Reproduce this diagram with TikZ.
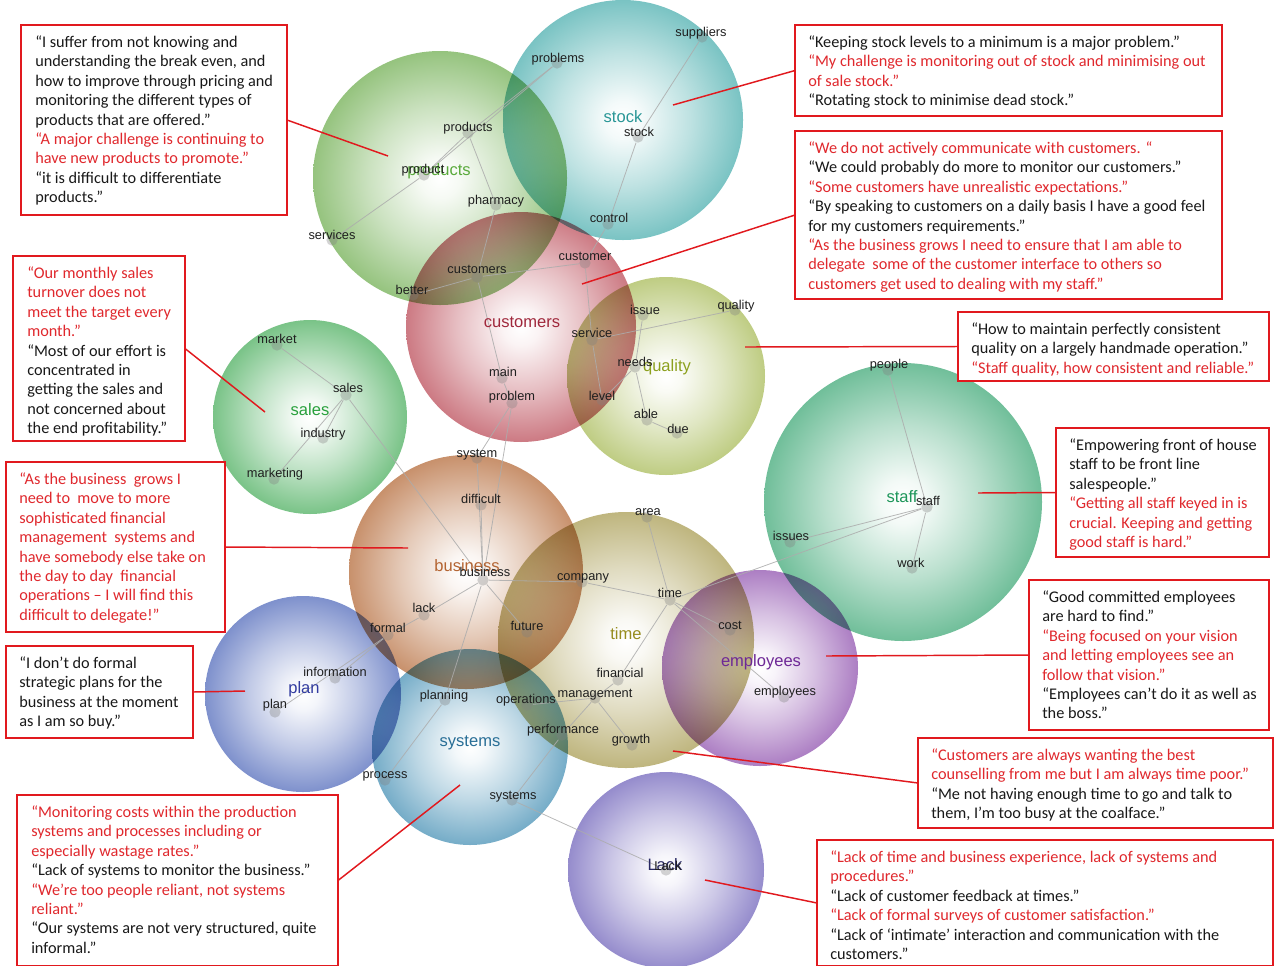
\documentclass[tikz,border=0pt]{standalone}
\usepackage{fontspec}
\setmainfont{Carlito}
\newfontfamily\arialf{Liberation Sans}
\usetikzlibrary{calc}

\definecolor{qred}{RGB}{224,40,45}
\definecolor{qblk}{RGB}{25,25,25}
\definecolor{lred}{RGB}{225,25,30}
% bubble colours
\definecolor{cProd}{RGB}{140,190,115}
\definecolor{cStock}{RGB}{110,190,190}
\definecolor{cCust}{RGB}{200,110,120}
\definecolor{cQual}{RGB}{185,200,120}
\definecolor{cSales}{RGB}{110,190,125}
\definecolor{cBus}{RGB}{195,135,95}
\definecolor{cTime}{RGB}{185,175,115}
\definecolor{cEmp}{RGB}{165,115,190}
\definecolor{cStaff}{RGB}{100,185,145}
\definecolor{cPlan}{RGB}{115,135,200}
\definecolor{cSys}{RGB}{105,165,195}
\definecolor{cLack}{RGB}{140,130,200}
% topic label colours
\definecolor{tProd}{RGB}{90,170,60}
\definecolor{tStock}{RGB}{40,150,150}
\definecolor{tCust}{RGB}{160,40,60}
\definecolor{tQual}{RGB}{140,160,30}
\definecolor{tSales}{RGB}{40,160,60}
\definecolor{tBus}{RGB}{180,100,50}
\definecolor{tTime}{RGB}{150,140,30}
\definecolor{tEmp}{RGB}{110,40,150}
\definecolor{tStaff}{RGB}{30,150,90}
\definecolor{tPlan}{RGB}{50,60,160}
\definecolor{tSys}{RGB}{40,110,150}
\definecolor{tLack}{RGB}{40,40,100}

\pgfdeclareradialshading[bubcol]{bubble}{\pgfpointorigin}{color(0bp)=(white); color(4bp)=(bubcol!8!white); color(14bp)=(bubcol!45!white); color(21bp)=(bubcol!75!white); color(25bp)=(bubcol!92!white); color(50bp)=(bubcol!92!white)}

\pgfdeclarelayer{bg}
\pgfdeclarelayer{lines}
\pgfsetlayers{bg,lines,main}

\newcommand\Rq{\color{qred}}
\newcommand\Kq{\color{qblk}}

\tikzset{
  bub/.style 2 args={circle, inner sep=0pt, outer sep=0pt, minimum size={#2*0.75pt},
    /utils/exec={\colorlet{bubcol}{#1}}, shade, shading=bubble},
  kdot/.style={circle, fill=gray, fill opacity=0.35, draw=none, minimum size=8.5pt, inner sep=0pt},
  klab/.style={font=\arialf\fontsize{9.6}{11}\selectfont, text=black!88, inner sep=0pt, text height=6.9pt, text depth=2pt},
  topic/.style={font=\arialf\fontsize{12.4}{14}\selectfont, inner sep=0pt, text height=9pt, text depth=2.6pt},
  kline/.style={draw=gray!65, line width=0.6pt, draw opacity=0.85},
  rline/.style={draw=lred, line width=1.1pt},
  qframe/.style={draw=lred, line width=1.1pt, fill=white, inner sep=0pt, outer sep=0pt},
  qtext/.style={font=\fontsize{12.2}{14.55}\selectfont, align=left, inner sep=0pt, anchor=north west},
}

\newcommand\kw[6]{\node[kdot] (#1) at (#2,#3) {}; \node[klab] (#1-t) at (#4,#5) {#6};}
\newcommand\qbox[7]{%
  \node[qframe, minimum width={(#4-#2)*0.75pt}, minimum height={(#5-#3)*0.75pt}] (#1) at ({(#2+#4)/2},{(#3+#5)/2}) {};
  \node[qtext] (#1-t) at (#2+#6,#3+10.5) {#7};}

\begin{document}
\begin{tikzpicture}[x=0.75pt, y=-0.75pt]
\useasboundingbox (0,0) rectangle (1274,965);

% ---------- bubbles ----------
\begin{pgfonlayer}{bg}
\begin{scope}[blend mode=multiply]
\node[bub={cProd}{254}]  (bProd)  at (440,178) {};
\node[bub={cStock}{240}] (bStock) at (623,120) {};
\node[bub={cCust}{230}]  (bCust)  at (521,327) {};
\node[bub={cQual}{198}]  (bQual)  at (666,376) {};
\node[bub={cSales}{194}] (bSales) at (310,417) {};
\node[bub={cBus}{234}]   (bBus)   at (466,572) {};
\node[bub={cTime}{256}]  (bTime)  at (626,640) {};
\node[bub={cEmp}{196}]   (bEmp)   at (760,668) {};
\node[bub={cStaff}{278}] (bStaff) at (903,502) {};
\node[bub={cPlan}{196}]  (bPlan)  at (303,694) {};
\node[bub={cSys}{196}]   (bSys)   at (470,747) {};
\node[bub={cLack}{196}]  (bLack)  at (666,870) {};
\end{scope}
\end{pgfonlayer}

% ---------- topic labels ----------
\node[topic, text=tProd]  (tProducts)  at (439,171) {products};
\node[topic, text=tStock] (tStockL)    at (623,118) {stock};
\node[topic, text=tCust]  (tCustomers) at (522,323) {customers};
\node[topic, text=tQual]  (tQuality)   at (667,367) {quality};
\node[topic, text=tSales] (tSalesL)    at (310,411) {sales};
\node[topic, text=tBus]   (tBusiness)  at (467,567) {business};
\node[topic, text=tTime]  (tTimeL)     at (626,635) {time};
\node[topic, text=tEmp]   (tEmployees) at (761,662) {employees};
\node[topic, text=tStaff] (tStaffL)    at (902,498) {staff};
\node[topic, text=tPlan]  (tPlanL)     at (304,689) {plan};
\node[topic, text=tSys]   (tSystems)   at (470,742) {systems};
\node[topic, text=tLack]  (tLackL)     at (665,866) {Lack};

% ---------- key words ----------
\kw{kProblems}{557}{63}{558}{59}{problems}
\kw{kSuppliers}{702}{37}{701}{33}{suppliers}
\kw{kProducts}{468}{133}{468}{128}{products}
\kw{kProduct}{424}{175}{423}{170}{product}
\kw{kPharmacy}{496}{205}{496}{201}{pharmacy}
\kw{kControl}{608}{224}{609}{219}{control}
\kw{kServices}{332}{240}{332}{236}{services}
\kw{kStock}{638}{137}{639}{133}{stock}
\kw{kCustomer}{585}{263}{585}{257}{customer}
\kw{kCustomers}{477}{277}{477}{270}{customers}
\kw{kBetter}{413}{295}{412}{291}{better}
\kw{kIssue}{643}{315}{645}{311}{issue}
\kw{kQuality}{735}{310}{736}{306}{quality}
\kw{kService}{592}{340}{592}{334}{service}
\kw{kNeeds}{635}{367}{635}{363}{needs}
\kw{kLevel}{602}{400}{602}{397}{level}
\kw{kAble}{647}{420}{646}{415}{able}
\kw{kDue}{677}{433}{678}{430}{due}
\kw{kMain}{502}{378}{503}{373}{main}
\kw{kProblem}{512}{403}{512}{397}{problem}
\kw{kSystem}{477}{458}{477}{454}{system}
\kw{kMarket}{277}{345}{277}{340}{market}
\kw{kSales}{346}{395}{348}{389}{sales}
\kw{kIndustry}{323}{438}{323}{434}{industry}
\kw{kMarketing}{274}{479}{275}{474}{marketing}
\kw{kDifficult}{481}{505}{481}{500}{difficult}
\kw{kBusiness}{483}{580}{485}{573}{business}
\kw{kArea}{647}{517}{648}{512}{area}
\kw{kCompany}{582}{582}{583}{577}{company}
\kw{kTime}{670}{600}{670}{594}{time}
\kw{kLack}{424}{615}{424}{609}{lack}
\kw{kFormal}{388}{635}{388}{629}{formal}
\kw{kFuture}{527}{632}{527}{627}{future}
\kw{kCost}{730}{630}{730}{626}{cost}
\kw{kFinancial}{618}{680}{620}{674}{financial}
\kw{kManagement}{595}{698}{595}{694}{management}
\kw{kOperations}{527}{705}{526}{700}{operations}
\kw{kPerformance}{562}{735}{563}{730}{performance}
\kw{kGrowth}{632}{745}{631}{740}{growth}
\kw{kEmployees}{784}{697}{785}{692}{employees}
\kw{kInformation}{335}{678}{335}{673}{information}
\kw{kPlan}{275}{712}{275}{705}{plan}
\kw{kPlanning}{445}{700}{444}{696}{planning}
\kw{kProcess}{385}{780}{385}{775}{process}
\kw{kSystems}{512}{800}{513}{796}{systems}
\kw{kPeople}{888}{370}{889}{365}{people}
\kw{kStaff}{927}{507}{928}{502}{staff}
\kw{kIssues}{790}{542}{791}{537}{issues}
\kw{kWork}{912}{568}{911}{564}{work}
\kw{kLackBig}{666}{870}{668}{867}{Lack}

% ---------- word links ----------
\begin{pgfonlayer}{lines}
\draw[kline] (kProblems) -- (kProducts);
\draw[kline] (kProblems) -- (kProduct);
\draw[kline] (kProducts) -- (kProduct);
\draw[kline] (kProduct) -- (kServices);
\draw[kline] (kProducts) -- (kPharmacy);
\draw[kline] (kPharmacy) -- (kCustomers);
\draw[kline] (kSuppliers) -- (kStock);
\draw[kline] (kStock) -- (kControl);
\draw[kline] (kControl) -- (kCustomer);
\draw[kline] (kCustomer) -- (kCustomers);
\draw[kline] (kCustomers) -- (kBetter);
\draw[kline] (kCustomer) -- (kService);
\draw[kline] (kService) -- (kLevel);
\draw[kline] (kService) -- (kQuality);
\draw[kline] (kIssue) -- (kNeeds);
\draw[kline] (kNeeds) -- (kAble);
\draw[kline] (kAble) -- (kDue);
\draw[kline] (kLevel) -- (kNeeds);
\draw[kline] (kCustomers) -- (kMain);
\draw[kline] (kMain) -- (kProblem);
\draw[kline] (kProblem) -- (kSystem);
\draw[kline] (kProblem) -- (kBusiness);
\draw[kline] (kSystem) -- (kBusiness);
\draw[kline] (kDifficult) -- (kBusiness);
\draw[kline] (kMarket) -- (kSales);
\draw[kline] (kSales) -- (kIndustry);
\draw[kline] (kSales) -- (kMarketing);
\draw[kline] (kSales) -- (kBusiness);
\draw[kline] (kBusiness) -- (kCompany);
\draw[kline] (kCompany) -- (kTime);
\draw[kline] (kBusiness) -- (kLack);
\draw[kline] (kLack) -- (kFormal);
\draw[kline] (kFormal) -- (kInformation);
\draw[kline] (kFormal) -- (kPlan);
\draw[kline] (kBusiness) -- (kFuture);
\draw[kline] (kBusiness) -- (kPlanning);
\draw[kline] (kPlanning) -- (kProcess);
\draw[kline] (kTime) -- (kArea);
\draw[kline] (kTime) -- (kFinancial);
\draw[kline] (kFinancial) -- (kManagement);
\draw[kline] (kTime) -- (kCost);
\draw[kline] (kTime) -- (kEmployees);
\draw[kline] (kTime) -- (kStaff);
\draw[kline] (kManagement) -- (kOperations);
\draw[kline] (kManagement) -- (kGrowth);
\draw[kline] (kManagement) -- (kPerformance);
\draw[kline] (kPerformance) -- (kSystems);
\draw[kline] (kSystems) -- (kLackBig);
\draw[kline] (kStaff) -- (kPeople);
\draw[kline] (kStaff) -- (kIssues);
\draw[kline] (kStaff) -- (kWork);
\end{pgfonlayer}

% ---------- quote boxes ----------
\qbox{qA}{21}{25}{287}{215}{14}{%
\Kq “I suffer from not knowing and\\
\Kq understanding the break even, and\\
\Kq how to improve through pricing and\\
\Kq monitoring the different types of\\
\Kq products that are offered.”\\
\Rq “A major challenge is continuing to\\
\Rq have new products to promote.”\\
\Kq “it is difficult to differentiate\\
\Kq products.”}

\qbox{qB}{795}{25}{1222}{116}{13}{%
\Kq “Keeping stock levels to a minimum is a major problem.”\\
\Rq “My challenge is monitoring out of stock and minimising out\\
\Rq of sale stock.”\\
\Kq “Rotating stock to minimise dead stock.”}

\qbox{qC}{795}{131}{1222}{299}{13}{%
\Rq “We do not actively communicate with customers. “\\
\Kq “We could probably do more to monitor our customers.”\\
\Rq “Some customers have unrealistic expectations.”\\
\Kq “By speaking to customers on a daily basis I have a good feel\\
\Kq for my customers requirements.”\\
\Rq “As the business grows I need to ensure that I am able to\\
\Rq delegate~ some of the customer interface to others so\\
\Rq customers get used to dealing with my staff.”}

\qbox{qD}{958}{312}{1269}{381}{13}{%
\Kq “How to maintain perfectly consistent\\
\Kq quality on a largely handmade operation.”\\
\Rq “Staff quality, how consistent and reliable.”}

\qbox{qE}{1056}{428}{1269}{557}{13}{%
\Kq “Empowering front of house\\
\Kq staff to be front line\\
\Kq salespeople.”\\
\Rq “Getting all staff keyed in is\\
\Rq crucial. Keeping and getting\\
\Rq good staff is hard.”}

\qbox{qF}{1029}{580}{1269}{730}{13}{%
\Kq “Good committed employees\\
\Kq are hard to find.”\\
\Rq “Being focused on your vision\\
\Rq and letting employees see an\\
\Rq follow that vision.”\\
\Kq “Employees can’t do it as well as\\
\Kq the boss.”}

\qbox{qG}{918}{738}{1273}{828}{13}{%
\Rq “Customers are always wanting the best\\
\Rq counselling from me but I am always time poor.”\\
\Kq “Me not having enough time to go and talk to\\
\Kq them, I’m too busy at the coalface.”}

\qbox{qH}{817}{840}{1273}{966}{13}{%
\Rq “Lack of time and business experience, lack of systems and\\
\Rq procedures.”\\
\Kq “Lack of customer feedback at times.”\\
\Rq “Lack of formal surveys of customer satisfaction.”\\
\Kq “Lack of ‘intimate’ interaction and communication with the\\
\Kq customers.”}

\qbox{qI}{13}{256}{185}{441}{14}{%
\Rq “Our monthly sales\\
\Rq turnover does not\\
\Rq meet the target every\\
\Rq month.”\\
\Kq “Most of our effort is\\
\Kq concentrated in\\
\Kq getting the sales and\\
\Kq not concerned about\\
\Kq the end profitability.”}

\qbox{qJ}{6}{462}{225}{632}{13}{%
\Rq “As the business~ grows I\\
\Rq need to~ move to more\\
\Rq sophisticated financial\\
\Rq management~ systems and\\
\Rq have somebody else take on\\
\Rq the day to day~ financial\\
\Rq operations – I will find this\\
\Rq difficult to delegate!”}

\qbox{qK}{6}{646}{193}{738}{13}{%
\Kq “I don’t do formal\\
\Kq strategic plans for the\\
\Kq business at the moment\\
\Kq as I am so buy.”}

\qbox{qL}{17}{795}{338}{966}{14}{%
\Rq “Monitoring costs within the production\\
\Rq systems and processes including or\\
\Rq especially wastage rates.”\\
\Kq “Lack of systems to monitor the business.”\\
\Rq “We’re too people reliant, not systems\\
\Rq reliant.”\\
\Kq “Our systems are not very structured, quite\\
\Kq informal.”}

% ---------- pointer ends ----------
\coordinate (eA) at (388,156);
\coordinate (eB) at (673,105);
\coordinate (eC) at (582,284);
\coordinate (eD) at (745,347);
\coordinate (eE) at (978,493);
\coordinate (eF) at (826,656);
\coordinate (eG) at (673,751);
\coordinate (eH) at (705,880);
\coordinate (eI) at (265,412);
\coordinate (eJ) at (408,548);
\coordinate (eK) at (245,691);
\coordinate (eL) at (460,785);

\draw[rline] (qA.east) -- (eA);
\draw[rline] (qB.west) -- (eB);
\draw[rline] (qC.west) -- (eC);
\draw[rline] (qD.west) -- (eD);
\draw[rline] (qE.west) -- (eE);
\draw[rline] (qF.west) -- (eF);
\draw[rline] (qG.west) -- (eG);
\draw[rline] (qH.west) -- (eH);
\draw[rline] (qI.east) -- (eI);
\draw[rline] (qJ.east) -- (eJ);
\draw[rline] (qK.east) -- (eK);
\draw[rline] (qL.east) -- (eL);
\end{tikzpicture}
\end{document}
